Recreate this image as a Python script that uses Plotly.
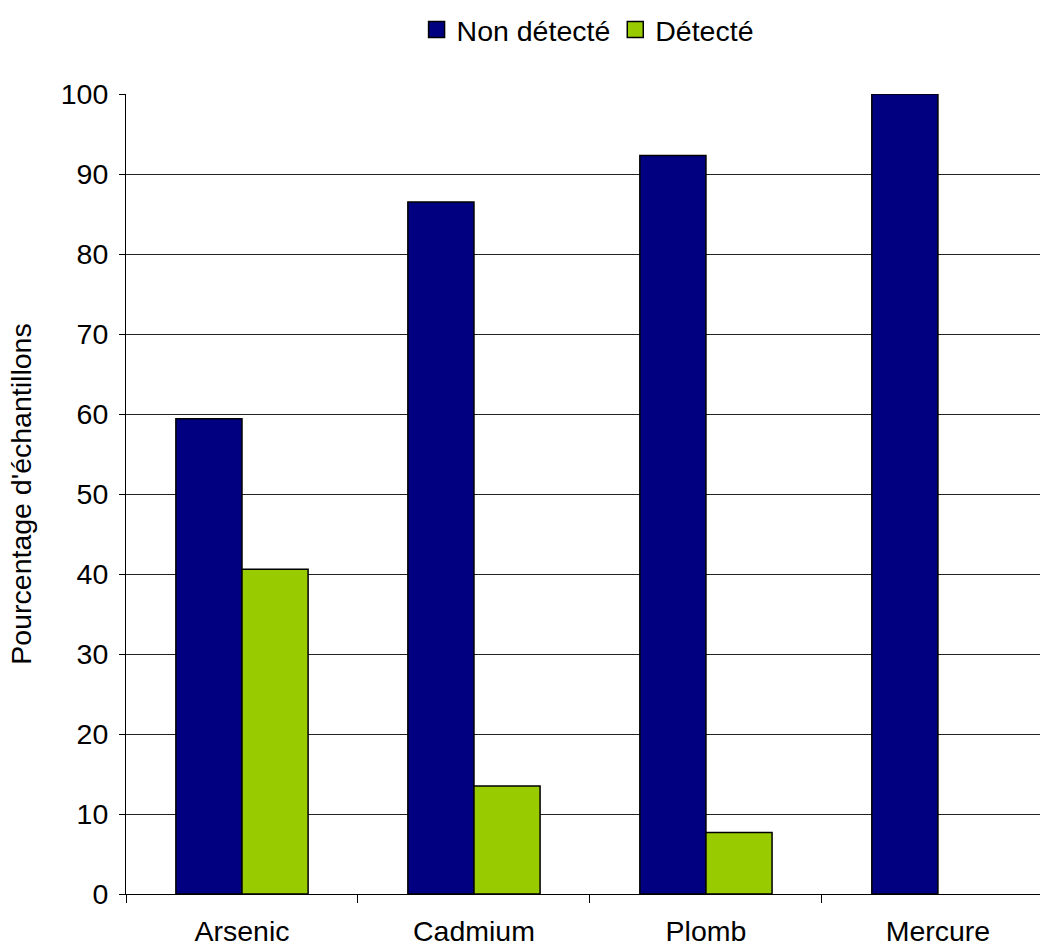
import plotly.graph_objects as go

# Pourcentage d'échantillons avec métal non détecté / détecté
metaux = ["Arsenic", "Cadmium", "Plomb", "Mercure"]
non_detecte = [59.4, 86.5, 92.3, 100.0]
detecte = [40.6, 13.5, 7.7, 0.0]
y_ticks = [0, 10, 20, 30, 40, 50, 60, 70, 80, 90, 100]

FONT = "Liberation Sans, Arial, sans-serif"
FS = 28.5
BLEU = "#000080"
VERT = "#99CC00"

fig = go.Figure()
fig.add_trace(go.Bar(
    name="Non détecté", x=metaux, y=non_detecte, showlegend=False,
    marker=dict(color=BLEU, line=dict(color="#000000", width=1.5)),
))
# no outline on zero-height bars
fig.add_trace(go.Bar(
    name="Détecté", x=metaux, y=detecte, showlegend=False,
    marker=dict(color=VERT,
                line=dict(color="#000000",
                          width=[1.5 if v > 0 else 0 for v in detecte])),
))

# legend entries with larger square swatches
for nom, coul in [("Non détecté", BLEU), ("Détecté", VERT)]:
    fig.add_trace(go.Scatter(
        name=nom, x=[None], y=[None], mode="markers",
        marker=dict(symbol="square", size=20, color=coul,
                    line=dict(color="#000000", width=1.5)),
    ))

fig.update_layout(
    width=1040, height=949,
    margin=dict(l=126, r=0, t=94, b=55),
    paper_bgcolor="white", plot_bgcolor="white",
    font=dict(family=FONT, size=FS, color="#000000"),
    barmode="group", bargap=0.43, bargroupgap=0,
    showlegend=True,
    legend=dict(
        orientation="h", x=0.505, xanchor="center", y=1.08, yanchor="middle",
        font=dict(size=FS), itemwidth=30, traceorder="normal",
        bgcolor="rgba(0,0,0,0)",
    ),
)

fig.update_xaxes(
    type="category", range=[-0.5, 3.44], automargin=False,
    showline=True, linecolor="#000000", linewidth=1,
    ticks="outside", tickson="boundaries", ticklen=8, tickcolor="#000000",
    tickfont=dict(size=FS), ticklabelstandoff=12,
    showgrid=False, zeroline=False,
)

fig.update_yaxes(
    range=[0, 100], tickvals=y_ticks, automargin=False,
    showline=True, linecolor="#000000", linewidth=1,
    ticks="outside", ticklen=6, tickcolor="#000000",
    tickfont=dict(size=FS), ticklabelstandoff=5,
    showgrid=True, gridcolor="#222222", gridwidth=1,
    zeroline=False,
    title=dict(text="Pourcentage d'échantillons", font=dict(size=FS), standoff=20),
)

fig.write_html("out.html")
